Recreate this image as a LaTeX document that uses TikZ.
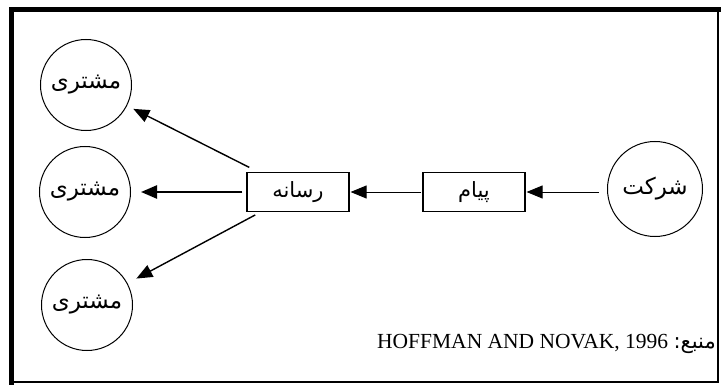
\documentclass[tikz,border=0pt]{standalone}
\usepackage{fontspec}
\setmainfont{Liberation Serif}
\newfontfamily\arabicfont[Script=Arabic]{DejaVu Sans}
\TeXXeTstate=1
\usetikzlibrary{arrows.meta}
\begin{document}
\begin{tikzpicture}[x=1pt,y=-1pt,
  cust/.style={circle,draw,line width=1pt,minimum size=91pt,inner sep=0pt,
    font=\arabicfont\fontsize{23}{23}\selectfont},
  boxnode/.style={rectangle,draw,line width=1.2pt,minimum width=102pt,minimum height=39pt,inner sep=0pt,
    font=\arabicfont\fontsize{21}{21}\selectfont},
  arr/.style={-{Triangle[length=16pt,width=13pt]},line width=0.9pt},
  frame/.style={line cap=rect}]
\useasboundingbox (0,0) rectangle (723,385);
% frame
\draw[frame,line width=2pt] (718,10) -- (718,382) -- (11,382);
\draw[frame,line width=5pt] (11,382) -- (11,10) -- (718,10);
% nodes
\node[cust] (c1) at (86,85) {\beginR مشتری\endR};
\node[cust] (c2) at (85,192) {\beginR مشتری\endR};
\node[cust] (c3) at (87,305) {\beginR مشتری\endR};
\node[cust,minimum size=95pt] (firm) at (655,189) {\beginR شرکت\endR};
\node[boxnode] (media) at (298,192) {\beginR رسانه\endR};
\node[boxnode] (msg) at (474,192) {\beginR پیام\endR};
% connectors
\draw[arr,shorten <=8pt,shorten >=1pt] (firm.west |- msg.east) -- (msg.east);
\draw[arr,shorten <=1pt,shorten >=1pt] (msg.west) -- (media.east);
\draw[arr,line width=2.4pt,shorten <=4pt,shorten >=10pt] (media.west) -- (c2);
\draw[arr,line width=1.4pt,shorten <=10pt,shorten >=7pt] (media) -- (c1);
\draw[arr,line width=1.4pt,shorten <=6pt,shorten >=10pt] (media) -- (c3);
% source
\node[anchor=base east,inner sep=0pt,font=\fontsize{21.5}{21.5}\selectfont] (src) at (716,348)
  {HOFFMAN AND NOVAK, 1996 {\arabicfont\fontsize{21}{21}\selectfont\beginR منبع:\endR}};
\end{tikzpicture}
\end{document}
